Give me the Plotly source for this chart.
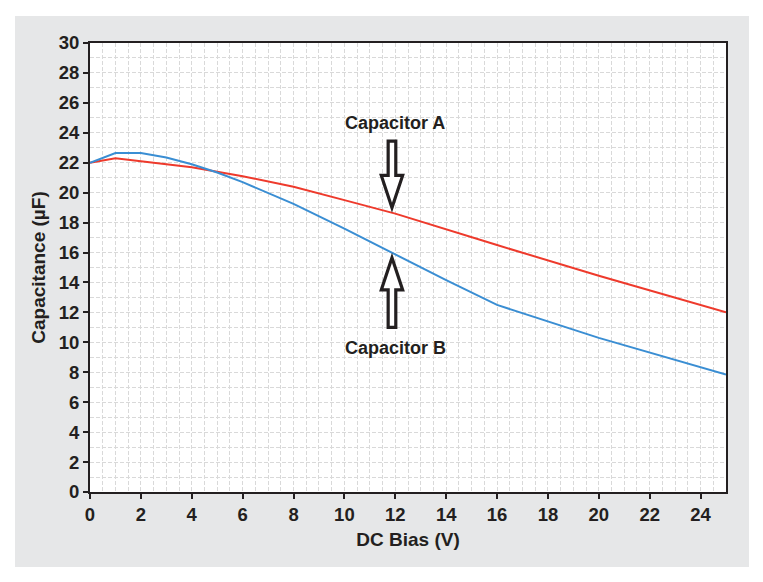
import plotly.graph_objects as go

# Data
bias_a = [0, 1, 2, 4, 6, 8, 10, 12, 16, 20, 25]
cap_a = [22.0, 22.3, 22.1, 21.7, 21.1, 20.4, 19.5, 18.6, 16.5, 14.45, 12.0]
bias_b = [0, 1, 2, 3, 4, 5, 6, 8, 10, 12, 14, 16, 20, 25]
cap_b = [22.0, 22.65, 22.65, 22.35, 21.9, 21.35, 20.7, 19.25, 17.6, 15.85, 14.15, 12.5, 10.3, 7.85]
x_ticks = list(range(0, 26, 2))
y_ticks = list(range(0, 31, 2))

FONT = "Arial, Liberation Sans, Helvetica, sans-serif"
TXT = "#231f20"
RED = "#ee3a2c"
BLUE = "#3a8ed3"

fig = go.Figure()
fig.add_trace(go.Scatter(x=bias_a, y=cap_a, mode="lines", name="Capacitor A",
                         line=dict(color=RED, width=2)))
fig.add_trace(go.Scatter(x=bias_b, y=cap_b, mode="lines", name="Capacitor B",
                         line=dict(color=BLUE, width=2)))

W, H = 763, 582
ml, mr, mt, mb = 90, 37, 43, 90
pw, ph = W - ml - mr, H - mt - mb

def px2paper_x(p):
    return (p - ml) / pw

def px2paper_y(p):
    return (H - mb - p) / ph

shapes = [
    dict(type="rect", xref="paper", yref="paper", layer="below",
         x0=px2paper_x(15), x1=px2paper_x(749), y0=px2paper_y(567), y1=px2paper_y(16),
         fillcolor="#e6e7e8", line=dict(width=0)),
    dict(type="rect", xref="paper", yref="paper", layer="below",
         x0=0, x1=1, y0=0, y1=1, fillcolor="white", line=dict(width=0)),
]

# Hollow block arrows (annotation decoration)
ax = 11.87
shaft_hw, head_hw = 0.15, 0.42

def arrow_down(top, head, tip):
    return (f"M {ax-shaft_hw},{top} L {ax+shaft_hw},{top} L {ax+shaft_hw},{head} "
            f"L {ax+head_hw},{head} L {ax},{tip} L {ax-head_hw},{head} "
            f"L {ax-shaft_hw},{head} Z")

arrow_a = arrow_down(23.45, 21.15, 19.0)
arrow_b = arrow_down(11.0, 13.5, 15.65)
for p in (arrow_a, arrow_b):
    shapes.append(dict(type="path", xref="x", yref="y", path=p,
                       fillcolor="white", line=dict(color=TXT, width=3.2)))

fig.update_layout(
    width=W, height=H,
    margin=dict(l=ml, r=mr, t=mt, b=mb, pad=0),
    paper_bgcolor="white", plot_bgcolor="white",
    showlegend=False,
    shapes=shapes,
    font=dict(family=FONT, color=TXT),
    annotations=[
        dict(x=12, y=24.66, xref="x", yref="y", text="Capacitor A", showarrow=False,
             font=dict(size=18, weight="bold", color=TXT, family=FONT)),
        dict(x=12, y=9.6, xref="x", yref="y", text="Capacitor B", showarrow=False,
             font=dict(size=18, weight="bold", color=TXT, family=FONT)),
    ],
)

grid = dict(showgrid=True, gridcolor="#d9d9d9", gridwidth=1, griddash="4px,2px")
minor_grid = dict(showgrid=True, gridcolor="#d9d9d9", griddash="4px,2px", gridwidth=1)

fig.update_xaxes(
    range=[0, 25], tickvals=x_ticks, ticktext=[str(v) for v in x_ticks],
    ticks="outside", ticklen=5, tickwidth=1.5, tickcolor=TXT,
    showline=True, linecolor=TXT, linewidth=2, mirror=True,
    tickfont=dict(size=18.5, weight="bold", color=TXT, family=FONT),
    title=dict(text="DC Bias (V)", font=dict(size=19, weight="bold", color=TXT, family=FONT), standoff=8),
    zeroline=False,
    minor=dict(dtick=0.5, tick0=0, **minor_grid),
    **grid,
)
fig.update_yaxes(
    range=[0, 30], tickvals=y_ticks, ticktext=[str(v) for v in y_ticks],
    ticks="outside", ticklen=5, tickwidth=1.5, tickcolor=TXT,
    showline=True, linecolor=TXT, linewidth=2, mirror=True,
    tickfont=dict(size=18.5, weight="bold", color=TXT, family=FONT),
    title=dict(text="Capacitance (µF)", font=dict(size=19, weight="bold", color=TXT, family=FONT), standoff=8),
    zeroline=False,
    minor=dict(dtick=1, tick0=0, **minor_grid),
    **grid,
)

fig.write_html("out.html", config={"displayModeBar": False},
               post_script="document.body.style.margin='0px';")
